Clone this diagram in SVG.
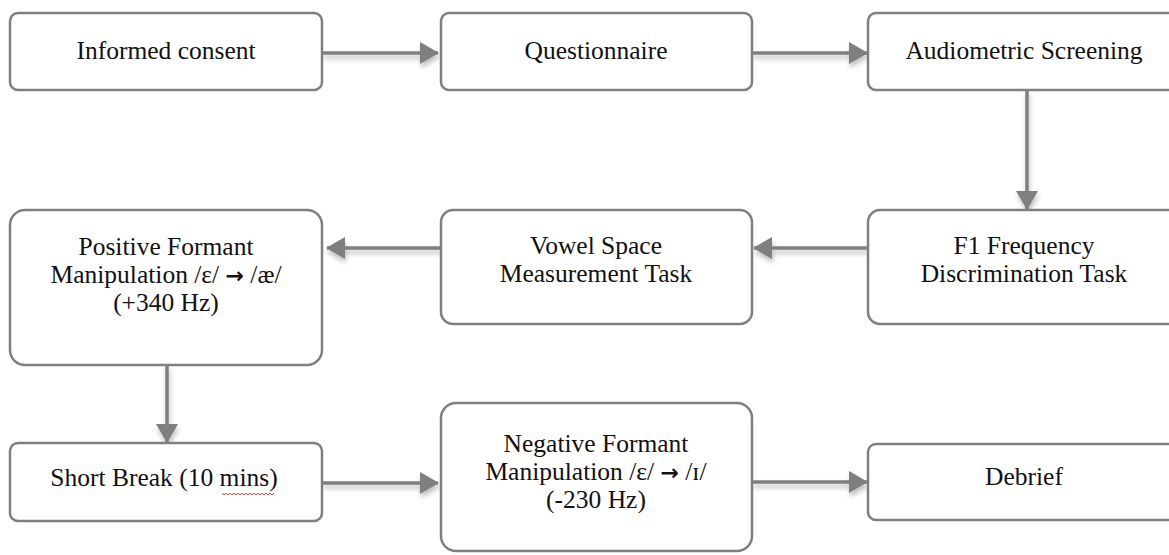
<svg xmlns="http://www.w3.org/2000/svg" width="1169" height="555" viewBox="0 0 1169 555">
<style>
.box{fill:#fff;stroke:#7f7f7f;stroke-width:2.5}
.t{font-family:"Liberation Serif","Times New Roman",serif;font-size:25.5px;fill:#111;text-anchor:middle}
.c{stroke:#7f7f7f;stroke-width:3.5;fill:none}
.ar{font-family:"DejaVu Sans",sans-serif;font-weight:bold;font-size:22px}
</style>
<defs>
<marker id="ah" markerUnits="userSpaceOnUse" markerWidth="20" markerHeight="22" refX="18" refY="11" orient="auto">
<path d="M0,0 L19,11 L0,22 z" fill="#7f7f7f"/>
</marker>
<filter id="sh" x="-20%" y="-50%" width="140%" height="200%">
<feDropShadow dx="1" dy="4" stdDeviation="2.5" flood-color="#000" flood-opacity="0.25"/>
</filter>
</defs>
<rect width="1169" height="555" fill="#fff"/>
<g id="connectors" filter="url(#sh)">
<line class="c" x1="322" y1="53" x2="438" y2="53" marker-end="url(#ah)"/>
<line class="c" x1="752" y1="53" x2="867" y2="53" marker-end="url(#ah)"/>
<line class="c" x1="1027" y1="90" x2="1027" y2="209" marker-end="url(#ah)"/>
<line class="c" x1="868" y1="248" x2="754" y2="248" marker-end="url(#ah)"/>
<line class="c" x1="441" y1="248" x2="327" y2="248" marker-end="url(#ah)"/>
<line class="c" x1="167" y1="365" x2="167" y2="442" marker-end="url(#ah)"/>
<line class="c" x1="322" y1="483" x2="438" y2="483" marker-end="url(#ah)"/>
<line class="c" x1="752" y1="482" x2="867" y2="482" marker-end="url(#ah)"/>
</g>
<g id="n1"><rect class="box" x="10" y="13" width="312" height="77" rx="8"/><text class="t" x="166" y="59">Informed consent</text></g>
<g id="n2"><rect class="box" x="441" y="13" width="311" height="77" rx="8"/><text class="t" x="596" y="59">Questionnaire</text></g>
<g id="n3"><rect class="box" x="868" y="13" width="315" height="77" rx="8"/><text class="t" x="1024" y="59">Audiometric Screening</text></g>
<g id="n4"><rect class="box" x="868" y="210" width="315" height="114" rx="12"/><text class="t" x="1024" y="254">F1 Frequency</text><text class="t" x="1024" y="282">Discrimination Task</text></g>
<g id="n5"><rect class="box" x="441" y="210" width="311" height="114" rx="12"/><text class="t" x="596" y="254">Vowel Space</text><text class="t" x="596" y="282">Measurement Task</text></g>
<g id="n6"><rect class="box" x="10" y="210" width="312" height="155" rx="15"/><text class="t" x="166" y="255">Positive Formant</text><text class="t" x="166" y="283">Manipulation /ɛ/ <tspan class="ar">→</tspan> /æ/</text><text class="t" x="166" y="311">(+340 Hz)</text></g>
<g id="n7"><rect class="box" x="10" y="443" width="312" height="78" rx="8"/><text class="t" x="164" y="486">Short Break (10 mins)</text><path d="M222,493 l2,2 l2,-2 l2,2 l2,-2 l2,2 l2,-2 l2,2 l2,-2 l2,2 l2,-2 l2,2 l2,-2 l2,2 l2,-2 l2,2 l2,-2 l2,2 l2,-2 l2,2 l2,-2 l2,2 l2,-2 l2,2 l2,-2 l2,2 l2,-2" fill="none" stroke="#e03030" stroke-width="0.9"/></g>
<g id="n8"><rect class="box" x="441" y="403" width="311" height="148" rx="15"/><text class="t" x="596" y="452">Negative Formant</text><text class="t" x="596" y="480">Manipulation /ɛ/ <tspan class="ar">→</tspan> /ɪ/</text><text class="t" x="596" y="508">(-230 Hz)</text></g>
<g id="n9"><rect class="box" x="868" y="444" width="315" height="76" rx="8"/><text class="t" x="1024" y="485">Debrief</text></g>
</svg>
